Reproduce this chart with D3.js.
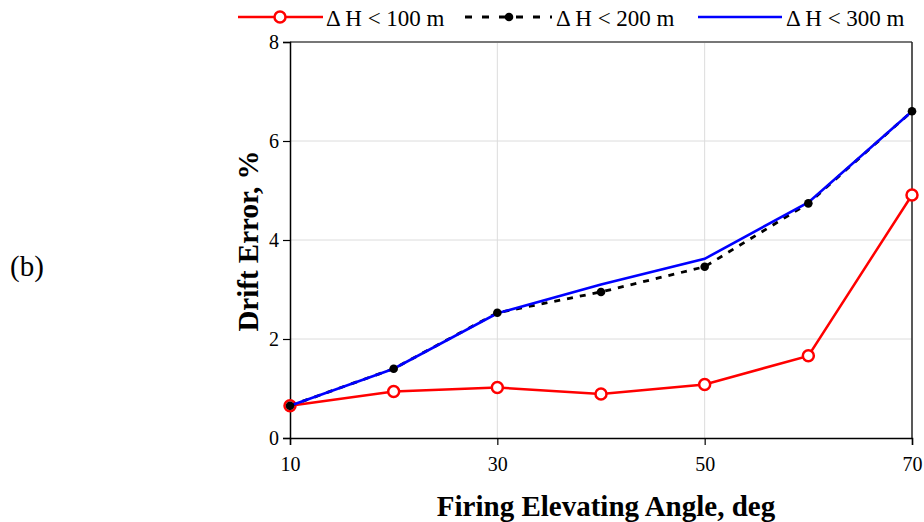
<!DOCTYPE html>
<html><head><meta charset="utf-8">
<script src="https://cdn.jsdelivr.net/npm/d3@7"></script>
<style>body{margin:0;background:#fff;} text{font-family:"Liberation Serif","Times New Roman",serif;}</style>
</head><body>
<svg id="c" width="924" height="522"></svg>
<script>
const angles = [10, 20, 30, 40, 50, 60, 70];
const dh100 = [0.65, 0.94, 1.02, 0.89, 1.08, 1.66, 4.91];
const dh200 = [0.65, 1.40, 2.53, 2.95, 3.46, 4.74, 6.60];
const dh300 = [0.65, 1.40, 2.52, 3.10, 3.62, 4.76, 6.60];
const xTicks = [10, 30, 50, 70];
const yTicks = [0, 2, 4, 6, 8];
const legendLabels = ["\u0394 H < 100 m", "\u0394 H < 200 m", "\u0394 H < 300 m"];

const svg = d3.select("#c");
const x = d3.scaleLinear().domain([10, 70]).range([290, 912]);
const y = d3.scaleLinear().domain([0, 8]).range([438, 42]);

// grid
svg.append("g").selectAll("line").data([30, 50]).join("line")
  .attr("x1", d => x(d)).attr("x2", d => x(d)).attr("y1", y(0)).attr("y2", y(8))
  .attr("stroke", "#dcdcdc").attr("stroke-width", 1);
svg.append("g").selectAll("line").data([2, 4, 6]).join("line")
  .attr("x1", x(10)).attr("x2", x(70)).attr("y1", d => y(d)).attr("y2", d => y(d))
  .attr("stroke", "#dcdcdc").attr("stroke-width", 1);
// top & right border
svg.append("line").attr("x1", x(10)).attr("x2", x(70)).attr("y1", y(8)).attr("y2", y(8)).attr("stroke", "#777").attr("stroke-width", 2);
svg.append("line").attr("x1", x(70)).attr("x2", x(70)).attr("y1", y(0)).attr("y2", y(8)).attr("stroke", "#222").attr("stroke-width", 1.5);

// axes
const xAxis = svg.append("g").attr("transform", `translate(0,${y(0)})`)
  .call(d3.axisBottom(x).tickValues(xTicks).tickSizeOuter(0).tickSize(7).tickPadding(12));
const yAxis = svg.append("g").attr("transform", `translate(${x(10)},0)`)
  .call(d3.axisLeft(y).tickValues(yTicks).tickSizeOuter(0).tickSize(7).tickPadding(4));
[xAxis, yAxis].forEach(g => {
  g.attr("font-family", null).attr("font-size", null);
  g.selectAll("path").attr("stroke", "#000").attr("stroke-width", 1.5);
  g.selectAll("line").attr("stroke", "#000").attr("stroke-width", 1.2);
  g.selectAll("text").attr("font-size", 20).attr("fill", "#000")
    .attr("font-family", "Liberation Serif, serif")
    .style("font-family", '"Liberation Serif", serif');
});

const line = d3.line().x((d, i) => x(angles[i])).y(d => y(d));

// red series
svg.append("path").datum(dh100).attr("d", line).attr("fill", "none").attr("stroke", "#ff0000").attr("stroke-width", 2.5);
svg.append("g").selectAll("circle").data(dh100).join("circle")
  .attr("cx", (d, i) => x(angles[i])).attr("cy", d => y(d)).attr("r", 5.5)
  .attr("fill", "#fff").attr("stroke", "#ff0000").attr("stroke-width", 2.5);
// black dashed
svg.append("path").datum(dh200).attr("d", line).attr("fill", "none").attr("stroke", "#000").attr("stroke-width", 2.8).attr("stroke-dasharray", "6,7");
// blue
svg.append("path").datum(dh300).attr("d", line).attr("fill", "none").attr("stroke", "#0000ff").attr("stroke-width", 2.6);
// black dots
svg.append("g").selectAll("circle").data(dh200).join("circle")
  .attr("cx", (d, i) => x(angles[i])).attr("cy", d => y(d)).attr("r", 4.3).attr("fill", "#000");

// titles
svg.append("text").attr("x", 606).attr("y", 516).attr("text-anchor", "middle")
  .attr("font-size", 29).attr("font-weight", "bold").text("Firing Elevating Angle, deg");
svg.append("text").attr("transform", "translate(258,241) rotate(-90)").attr("text-anchor", "middle")
  .attr("font-size", 29).attr("font-weight", "bold").text("Drift Error, %");
svg.append("text").attr("x", 27).attr("y", 276).attr("text-anchor", "middle")
  .attr("font-size", 29).text("(b)");

// legend
const lg = svg.append("g");
const ly = 17;
lg.append("line").attr("x1", 238).attr("x2", 323).attr("y1", ly).attr("y2", ly).attr("stroke", "#ff0000").attr("stroke-width", 2.5);
lg.append("circle").attr("cx", 280).attr("cy", ly).attr("r", 5.5).attr("fill", "#fff").attr("stroke", "#ff0000").attr("stroke-width", 2.5);
lg.append("line").attr("x1", 465).attr("x2", 552).attr("y1", ly).attr("y2", ly).attr("stroke", "#000").attr("stroke-width", 3).attr("stroke-dasharray", "7,10");
lg.append("circle").attr("cx", 509).attr("cy", ly).attr("r", 4.3).attr("fill", "#000");
lg.append("line").attr("x1", 698).attr("x2", 782).attr("y1", ly).attr("y2", ly).attr("stroke", "#0000ff").attr("stroke-width", 2.6);
const lx = [326, 556, 786];
lg.selectAll("text").data(legendLabels).join("text")
  .attr("x", (d, i) => lx[i]).attr("y", 26).attr("font-size", 23).text(d => d);
</script>
</body></html>
